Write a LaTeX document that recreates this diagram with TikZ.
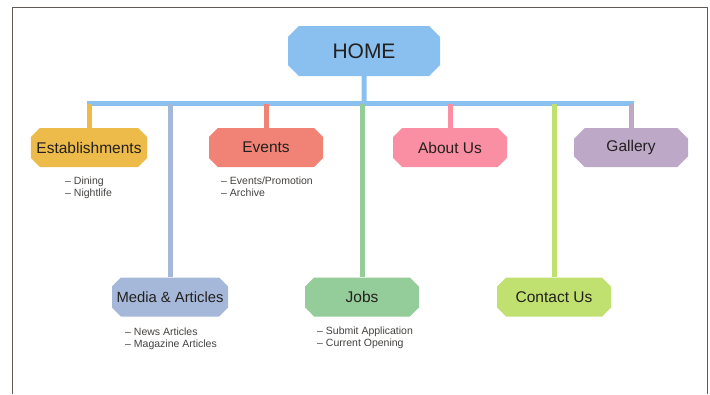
\documentclass[tikz,border=0pt]{standalone}
\usepackage{fontspec}
\setmainfont{Liberation Sans}
\usepackage{tikz}
\usepackage{xcolor}
\usetikzlibrary{shapes.misc}
\definecolor{homeblue}{RGB}{138,192,240}
\definecolor{estyellow}{RGB}{237,187,74}
\definecolor{mediablue}{RGB}{166,184,218}
\definecolor{eventred}{RGB}{240,130,118}
\definecolor{jobgreen}{RGB}{148,204,154}
\definecolor{aboutpink}{RGB}{250,143,163}
\definecolor{contactlime}{RGB}{192,224,112}
\definecolor{gallerypurple}{RGB}{190,168,200}
\definecolor{framegray}{RGB}{95,90,85}
\definecolor{textgray}{RGB}{35,32,30}
\tikzset{
    home/.style={
        chamfered rectangle,
        chamfered rectangle xsep=8pt,
        fill=homeblue,
        minimum width=152pt,
        minimum height=50pt,
        inner sep=0pt,
        text=textgray,
        font=\fontsize{21}{25}\selectfont
    },
    page/.style={
        chamfered rectangle,
        chamfered rectangle xsep=8pt,
        minimum width=114pt,
        minimum height=39pt,
        inner sep=0pt,
        text=textgray,
        font=\fontsize{15.5}{18}\selectfont
    },
    note/.style={
        anchor=north west,
        align=left,
        inner sep=0pt,
        text=textgray!85,
        font=\fontsize{10.5}{12.5}\selectfont
    },
    link/.style={line width=5pt},
    frame/.style={draw=framegray,line width=1pt}
}
\begin{document}
\begin{tikzpicture}[x=1pt,y=-1pt]
\useasboundingbox (0,0) rectangle (710,394);
\draw[frame] (12.5,394) -- (12.5,7.5) -- (707,7.5) -- (707,394);

\node[home] (home) at (364,51) {HOME};

\node[page,fill=estyellow] (est) at (89,147.5) {Establishments};
\node[page,fill=eventred] (events) at (266,147.5) {Events};
\node[page,fill=aboutpink] (about) at (450,147.5) {About Us};
\node[page,fill=gallerypurple] (gallery) at (631,147.5) {Gallery};

\node[page,fill=mediablue,minimum width=116pt,font=\fontsize{14.8}{18}\selectfont] (media) at (170,297) {\makebox[96pt]{Media \& Articles}};
\node[page,fill=jobgreen] (jobs) at (362,297) {Jobs};
\node[page,fill=contactlime] (contact) at (554,297) {Contact Us};

\node[note] (estlist) at (65,176.5) {-- Dining\\-- Nightlife};
\node[note] (eventlist) at (221,176.5) {-- Events/Promotion\\-- Archive};
\node[note] (medialist) at (125,327.5) {-- News Articles\\-- Magazine Articles};
\node[note] (joblist) at (317,326.5) {-- Submit Application\\-- Current Opening};

\coordinate (bar) at (364,103.5);

\draw[link,homeblue] (home) -- (bar);
\draw[link,homeblue,line cap=rect] (est.north |- bar) -- (gallery.north |- bar);
\draw[link,estyellow] (est.north |- bar) -- (est.north);
\draw[link,mediablue] (media.north |- bar) -- (media.north);
\draw[link,eventred] (events.north |- bar) -- (events.north);
\draw[link,jobgreen] (jobs.north |- bar) -- (jobs.north);
\draw[link,aboutpink] (about.north |- bar) -- (about.north);
\draw[link,contactlime] (contact.north |- bar) -- (contact.north);
\draw[link,gallerypurple] (gallery.north |- bar) -- (gallery.north);
\end{tikzpicture}
\end{document}
